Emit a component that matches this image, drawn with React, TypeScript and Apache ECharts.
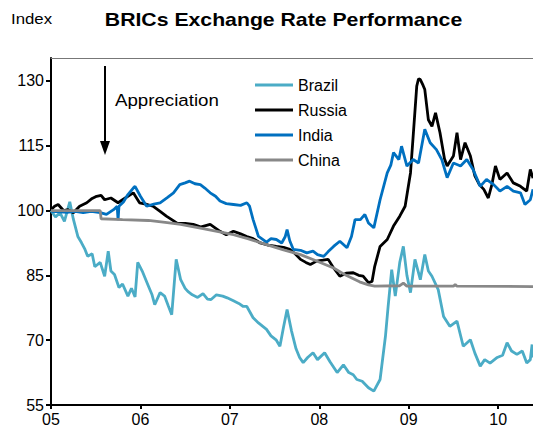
import React, { useEffect, useRef } from "react";
import * as echarts from "echarts";

const FONT = "'Liberation Sans', Arial, sans-serif";

const titleText = "BRICs Exchange Rate Performance";
const unitText = "Index";
const noteText = "Appreciation";
const seriesNames = ["Brazil", "Russia", "India", "China"];
const seriesColors = ["#4BACC6", "#000000", "#0070C0", "#888888"];
const yearTicks = [2005, 2006, 2007, 2008, 2009, 2010];
const valueTicks = [55, 70, 85, 100, 115, 130];

// [decimal year, index value]
const brazil: [number, number][] = [
  [2005.0, 100], [2005.05, 98.5], [2005.1, 99.5], [2005.15, 97.5], [2005.21, 102], [2005.25, 98],
  [2005.3, 94], [2005.34, 92.6], [2005.38, 91], [2005.41, 89.4], [2005.46, 90], [2005.49, 87],
  [2005.55, 88], [2005.6, 84.8], [2005.64, 90.6], [2005.67, 86], [2005.71, 85.2], [2005.76, 82.2],
  [2005.8, 83], [2005.86, 80.2], [2005.9, 82], [2005.94, 80], [2005.97, 88], [2006.02, 86],
  [2006.06, 84], [2006.09, 82.5], [2006.13, 80.5], [2006.16, 78.2], [2006.22, 81], [2006.27, 80.2],
  [2006.31, 78], [2006.35, 75.9], [2006.4, 88.7], [2006.45, 84], [2006.5, 82], [2006.53, 81.3],
  [2006.58, 80.5], [2006.64, 79.9], [2006.7, 80.8], [2006.75, 79.5], [2006.79, 79.4], [2006.85, 80.5],
  [2006.92, 80.2], [2006.97, 79.8], [2007.04, 79.1], [2007.1, 78.5], [2007.15, 77.8], [2007.19, 77.8],
  [2007.26, 75.2], [2007.32, 74], [2007.41, 72.5], [2007.46, 71], [2007.52, 70], [2007.56, 68.6],
  [2007.6, 73], [2007.64, 77.1], [2007.69, 72.1], [2007.74, 68], [2007.78, 66], [2007.82, 64.8],
  [2007.87, 66], [2007.93, 67.1], [2007.98, 65.5], [2008.06, 67.1], [2008.12, 65], [2008.2, 62.5],
  [2008.27, 64.3], [2008.33, 62.5], [2008.38, 62], [2008.42, 60.9], [2008.48, 60.5], [2008.55, 59],
  [2008.61, 58.2], [2008.68, 60.9], [2008.74, 70.9], [2008.77, 77.8], [2008.81, 86.3], [2008.85, 80.2],
  [2008.9, 88], [2008.94, 91.7], [2008.98, 85], [2009.02, 81], [2009.07, 88.7], [2009.13, 84],
  [2009.18, 89.8], [2009.22, 86], [2009.26, 84.8], [2009.33, 81.7], [2009.39, 75.5], [2009.46, 73.2],
  [2009.54, 74.4], [2009.61, 68.6], [2009.69, 70.1], [2009.74, 67], [2009.8, 64], [2009.85, 65.5],
  [2009.91, 64.7], [2009.99, 66], [2010.05, 66.5], [2010.1, 69.4], [2010.15, 67.5], [2010.21, 66.7],
  [2010.27, 67.5], [2010.32, 64.7], [2010.36, 65.5], [2010.38, 69], [2010.39, 66],
];

const russia: [number, number][] = [
  [2005.0, 100.2], [2005.04, 101], [2005.08, 101.4], [2005.14, 100], [2005.19, 100.2], [2005.25, 99.5],
  [2005.32, 101], [2005.4, 101.8], [2005.46, 102.8], [2005.51, 103.3], [2005.56, 103.5], [2005.6, 102.5],
  [2005.67, 102.9], [2005.75, 101.8], [2005.8, 102.5], [2005.86, 103.3], [2005.92, 104.1], [2005.99, 101.8],
  [2006.06, 101.5], [2006.14, 101], [2006.22, 99.8], [2006.29, 98.7], [2006.35, 97.9], [2006.41, 97.1],
  [2006.5, 97], [2006.59, 96.8], [2006.68, 96.2], [2006.78, 96.8], [2006.89, 95.2], [2006.96, 94.4],
  [2007.04, 95.2], [2007.12, 94.6], [2007.19, 94], [2007.26, 93.5], [2007.34, 92.5], [2007.43, 92],
  [2007.52, 91.7], [2007.6, 91.5], [2007.67, 91], [2007.73, 90], [2007.79, 88.7], [2007.85, 88],
  [2007.9, 87.5], [2007.97, 88.3], [2008.04, 88.5], [2008.1, 88.7], [2008.16, 86.7], [2008.23, 84.8],
  [2008.3, 85.5], [2008.38, 85.6], [2008.44, 85], [2008.49, 84.8], [2008.55, 83.3], [2008.59, 83.6],
  [2008.62, 87.1], [2008.68, 91.7], [2008.76, 93.3], [2008.83, 96.4], [2008.9, 98.7], [2008.96, 101],
  [2009.02, 108.7], [2009.05, 117.2], [2009.09, 128.8], [2009.11, 130.5], [2009.13, 130.3], [2009.16, 129],
  [2009.18, 128], [2009.22, 121], [2009.26, 119.5], [2009.3, 122.6], [2009.35, 118], [2009.4, 112],
  [2009.43, 110.3], [2009.5, 112.6], [2009.54, 118], [2009.58, 111.8], [2009.63, 115.7], [2009.69, 112.6],
  [2009.74, 108], [2009.79, 106], [2009.84, 104.9], [2009.89, 102.9], [2009.93, 106], [2009.97, 110.3],
  [2010.02, 107.2], [2010.1, 108.7], [2010.17, 106.4], [2010.25, 105.6], [2010.32, 104.5], [2010.36, 109.5],
  [2010.39, 107.5],
];

const india: [number, number][] = [
  [2005.0, 99.8], [2005.1, 99.7], [2005.18, 99.6], [2005.27, 99.8], [2005.36, 99.5], [2005.45, 99.8],
  [2005.55, 99.5], [2005.62, 99.1], [2005.7, 100.2], [2005.74, 101], [2005.75, 97.8], [2005.76, 101],
  [2005.81, 102], [2005.86, 103.7], [2005.92, 105.2], [2005.94, 105.6], [2006.0, 103.3], [2006.07, 101],
  [2006.15, 101.5], [2006.22, 101.8], [2006.3, 103], [2006.37, 104.1], [2006.44, 106], [2006.5, 106.4],
  [2006.55, 106.8], [2006.61, 106.2], [2006.67, 106], [2006.72, 105.2], [2006.78, 104.1], [2006.84, 103.3],
  [2006.89, 102.2], [2006.96, 101.6], [2007.04, 101.4], [2007.12, 101.2], [2007.19, 101.8], [2007.22, 101],
  [2007.26, 97.9], [2007.32, 94], [2007.41, 92.7], [2007.46, 93.5], [2007.52, 93.3], [2007.58, 92.5],
  [2007.62, 94], [2007.64, 95.6], [2007.67, 93], [2007.71, 91], [2007.79, 90.8], [2007.86, 90.2],
  [2007.93, 90.6], [2007.98, 89.8], [2008.05, 89.4], [2008.1, 90.5], [2008.16, 91.7], [2008.23, 92.9],
  [2008.31, 91.4], [2008.36, 94], [2008.4, 97.9], [2008.46, 97.9], [2008.51, 99.1], [2008.55, 97.1],
  [2008.61, 96], [2008.68, 102.5], [2008.76, 108.7], [2008.8, 110.5], [2008.83, 113.4], [2008.89, 111.8],
  [2008.92, 114.9], [2008.98, 110.3], [2009.05, 111.8], [2009.11, 111], [2009.18, 118.8], [2009.24, 115.7],
  [2009.31, 114.1], [2009.37, 111.8], [2009.43, 107.6], [2009.5, 111], [2009.58, 110.3], [2009.65, 111.8],
  [2009.72, 109.5], [2009.8, 105.6], [2009.87, 107.2], [2009.95, 106], [2010.02, 104.5], [2010.1, 105.6],
  [2010.17, 104.5], [2010.25, 104.1], [2010.3, 101.4], [2010.36, 102.5], [2010.39, 104.9],
];

const china: [number, number][] = [
  [2005.0, 100], [2005.3, 100], [2005.55, 100], [2005.56, 98.1], [2005.8, 97.9], [2006.09, 97.7],
  [2006.3, 97.2], [2006.45, 96.8], [2006.7, 95.8], [2006.9, 95], [2007.04, 94.4], [2007.2, 93.5],
  [2007.41, 92.1], [2007.6, 90.9], [2007.79, 89.8], [2007.95, 88.5], [2008.16, 86.7], [2008.3, 85],
  [2008.45, 83.5], [2008.55, 82.8], [2008.62, 82.5], [2008.9, 82.6], [2008.94, 83.2], [2008.98, 82.5],
  [2009.5, 82.5], [2009.52, 82.9], [2009.54, 82.5], [2010.39, 82.4],
];

const seriesData = [brazil, russia, india, china];

export default function App() {
  const ref = useRef<HTMLDivElement>(null);
  useEffect(() => {
    document.body.style.margin = "0";
    if (!ref.current) return;
    const chart = echarts.init(ref.current, undefined, { renderer: "svg" });
    const xMin = 2005;
    const xMax = 2010.39;
    chart.setOption({
      animation: false,
      grid: { left: 51, right: 0, top: 58, bottom: 25 },
      xAxis: [
        {
          type: "value",
          min: xMin,
          max: xMax,
          axisLine: { show: true, lineStyle: { color: "#000", width: 2 } },
          axisTick: { show: true, customValues: yearTicks, length: 4, lineStyle: { color: "#000", width: 2 } },
          axisLabel: {
            customValues: yearTicks,
            formatter: (v: number) => String(Math.round(v)).slice(2),
            fontSize: 16,
            fontFamily: FONT,
            color: "#000",
            margin: 6,
          },
          splitLine: { show: false },
        },
        {
          type: "value",
          position: "top",
          min: xMin,
          max: xMax,
          axisLine: { show: true, lineStyle: { color: "#777", width: 1 } },
          axisTick: { show: false },
          axisLabel: { show: false },
          splitLine: { show: false },
        },
      ],
      yAxis: {
        type: "value",
        min: 55,
        max: 135.3,
        axisLine: { show: true, lineStyle: { color: "#000", width: 2 } },
        axisTick: { show: true, customValues: valueTicks, length: 5, lineStyle: { color: "#000", width: 2 } },
        axisLabel: { customValues: valueTicks, fontSize: 16, fontFamily: FONT, color: "#000", margin: 7 },
        splitLine: { show: false },
      },
      legend: {
        orient: "vertical",
        left: 255,
        top: 77,
        padding: 0,
        icon: "rect",
        itemWidth: 38,
        itemHeight: 3,
        itemGap: 9,
        data: seriesNames,
        textStyle: { fontSize: 16, fontFamily: FONT, color: "#000", lineHeight: 16 },
      },
      series: seriesNames.map((name, i) => ({
        name,
        type: "line",
        data: seriesData[i],
        symbol: "none",
        showSymbol: false,
        color: seriesColors[i],
        itemStyle: { color: seriesColors[i] },
        lineStyle: { color: seriesColors[i], width: 2.8 },
      })),
      graphic: [
        {
          type: "text",
          x: 11,
          y: 19,
          scaleX: 1.2,
          style: { text: unitText, font: `14px ${FONT}`, fill: "#000", verticalAlign: "middle" },
        },
        {
          type: "text",
          x: 283.5,
          y: 20,
          scaleX: 1.18,
          style: { text: titleText, font: `bold 18px ${FONT}`, fill: "#000", align: "center", verticalAlign: "middle" },
        },
        {
          type: "line",
          shape: { x1: 105, y1: 66, x2: 105, y2: 143 },
          style: { stroke: "#000", lineWidth: 2 },
        },
        {
          type: "polygon",
          shape: { points: [[100, 141], [110, 141], [105, 155]] },
          style: { fill: "#000" },
        },
        {
          type: "text",
          x: 115,
          y: 100,
          scaleX: 1.1,
          style: { text: noteText, font: `17px ${FONT}`, fill: "#000", verticalAlign: "middle" },
        },
      ],
    });
    return () => chart.dispose();
  }, []);
  return <div ref={ref} style={{ width: 533, height: 430, position: "absolute", left: 0, top: 0 }} />;
}
